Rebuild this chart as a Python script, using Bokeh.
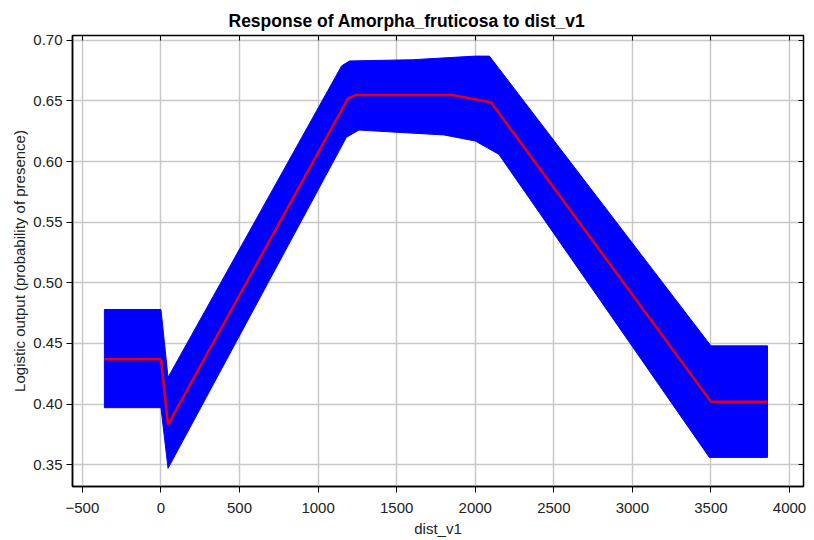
from bokeh.plotting import figure
from bokeh.models import Range1d, LinearAxis, FixedTicker, CustomJSTickFormatter
from bokeh.embed import file_html
from bokeh.resources import INLINE

# Data
x_mean = [-360, 0, 45, 1190, 1240, 1850, 2100, 3500, 3860]
mean = [0.437, 0.437, 0.383, 0.652, 0.655, 0.655, 0.649, 0.402, 0.402]

x_upper = [-360, 0, 45, 1150, 1200, 1600, 2000, 2090, 3500, 3860]
upper = [0.478, 0.478, 0.422, 0.679, 0.683, 0.684, 0.687, 0.687, 0.448, 0.448]

x_lower = [-360, 0, 45, 1180, 1260, 1800, 2000, 2150, 3490, 3860]
lower = [0.397, 0.397, 0.347, 0.620, 0.626, 0.622, 0.617, 0.606, 0.356, 0.356]

x_ticks = [-500, 0, 500, 1000, 1500, 2000, 2500, 3000, 3500, 4000]
y_ticks = [0.35, 0.40, 0.45, 0.50, 0.55, 0.60, 0.65, 0.70]

FONT = "Liberation Sans"

p = figure(width=814, height=540, output_backend="svg", toolbar_location=None,
           x_range=Range1d(-563, 4089), y_range=Range1d(0.332, 0.704),
           title="Response of Amorpha_fruticosa to dist_v1",
           min_border_left=72, min_border_right=11, min_border_top=35, min_border_bottom=54)

p.title.align = "left"
p.title.offset = 156
p.title.text_font = FONT
p.title.text_font_size = "17.5px"
p.title.text_font_style = "bold"
p.title.text_color = "black"

p.outline_line_color = "black"
p.outline_line_width = 1.5
p.background_fill_color = "white"
p.border_fill_color = "white"

for ax in (p.xaxis[0], p.yaxis[0]):
    ax.major_label_text_font = FONT
    ax.major_label_text_font_size = "15px"
    ax.major_label_text_color = "#222222"
    ax.axis_label_text_font = FONT
    ax.axis_label_text_font_size = "15px"
    ax.axis_label_text_font_style = "normal"
    ax.axis_label_text_color = "#222222"
    ax.axis_line_color = "black"
    ax.axis_line_width = 1.5
    ax.major_tick_line_color = "black"
    ax.major_tick_in = 0
    ax.major_tick_out = 6
    ax.minor_tick_line_color = None

p.xaxis[0].ticker = FixedTicker(ticks=x_ticks)
p.yaxis[0].ticker = FixedTicker(ticks=y_ticks)
p.yaxis[0].formatter = CustomJSTickFormatter(code="return tick.toFixed(2);")
p.xaxis[0].axis_label = "dist_v1"
p.yaxis[0].axis_label = "Logistic output (probability of presence)"
p.xaxis[0].major_label_standoff = 10
p.xaxis[0].axis_label_standoff = 4
p.yaxis[0].major_label_standoff = 4
p.yaxis[0].axis_label_standoff = 2

p.xgrid.ticker = FixedTicker(ticks=x_ticks)
p.ygrid.ticker = FixedTicker(ticks=y_ticks)
p.grid.grid_line_color = "#c8c8c8"
p.grid.grid_line_width = 1.5

# band (mean +/- sd) and mean curve
bx = x_upper + x_lower[::-1]
by = upper + lower[::-1]
p.patch(bx, by, fill_color="#0000ff", line_color="#0000ff", line_width=1)
p.line(x_mean, mean, line_color="#e0001b", line_width=2.5)

# mirrored axes with inside ticks and no labels
blank = CustomJSTickFormatter(code="return '';")
top = LinearAxis(ticker=FixedTicker(ticks=x_ticks), formatter=blank,
                 major_tick_in=5, major_tick_out=0, minor_tick_line_color=None,
                 axis_line_color="black", major_label_standoff=0)
right = LinearAxis(ticker=FixedTicker(ticks=y_ticks), formatter=blank,
                   major_tick_in=5, major_tick_out=0, minor_tick_line_color=None,
                   axis_line_color="black", major_label_standoff=0)
p.add_layout(top, "above")
p.add_layout(right, "right")

open("out.html", "w").write(file_html(p, INLINE))
